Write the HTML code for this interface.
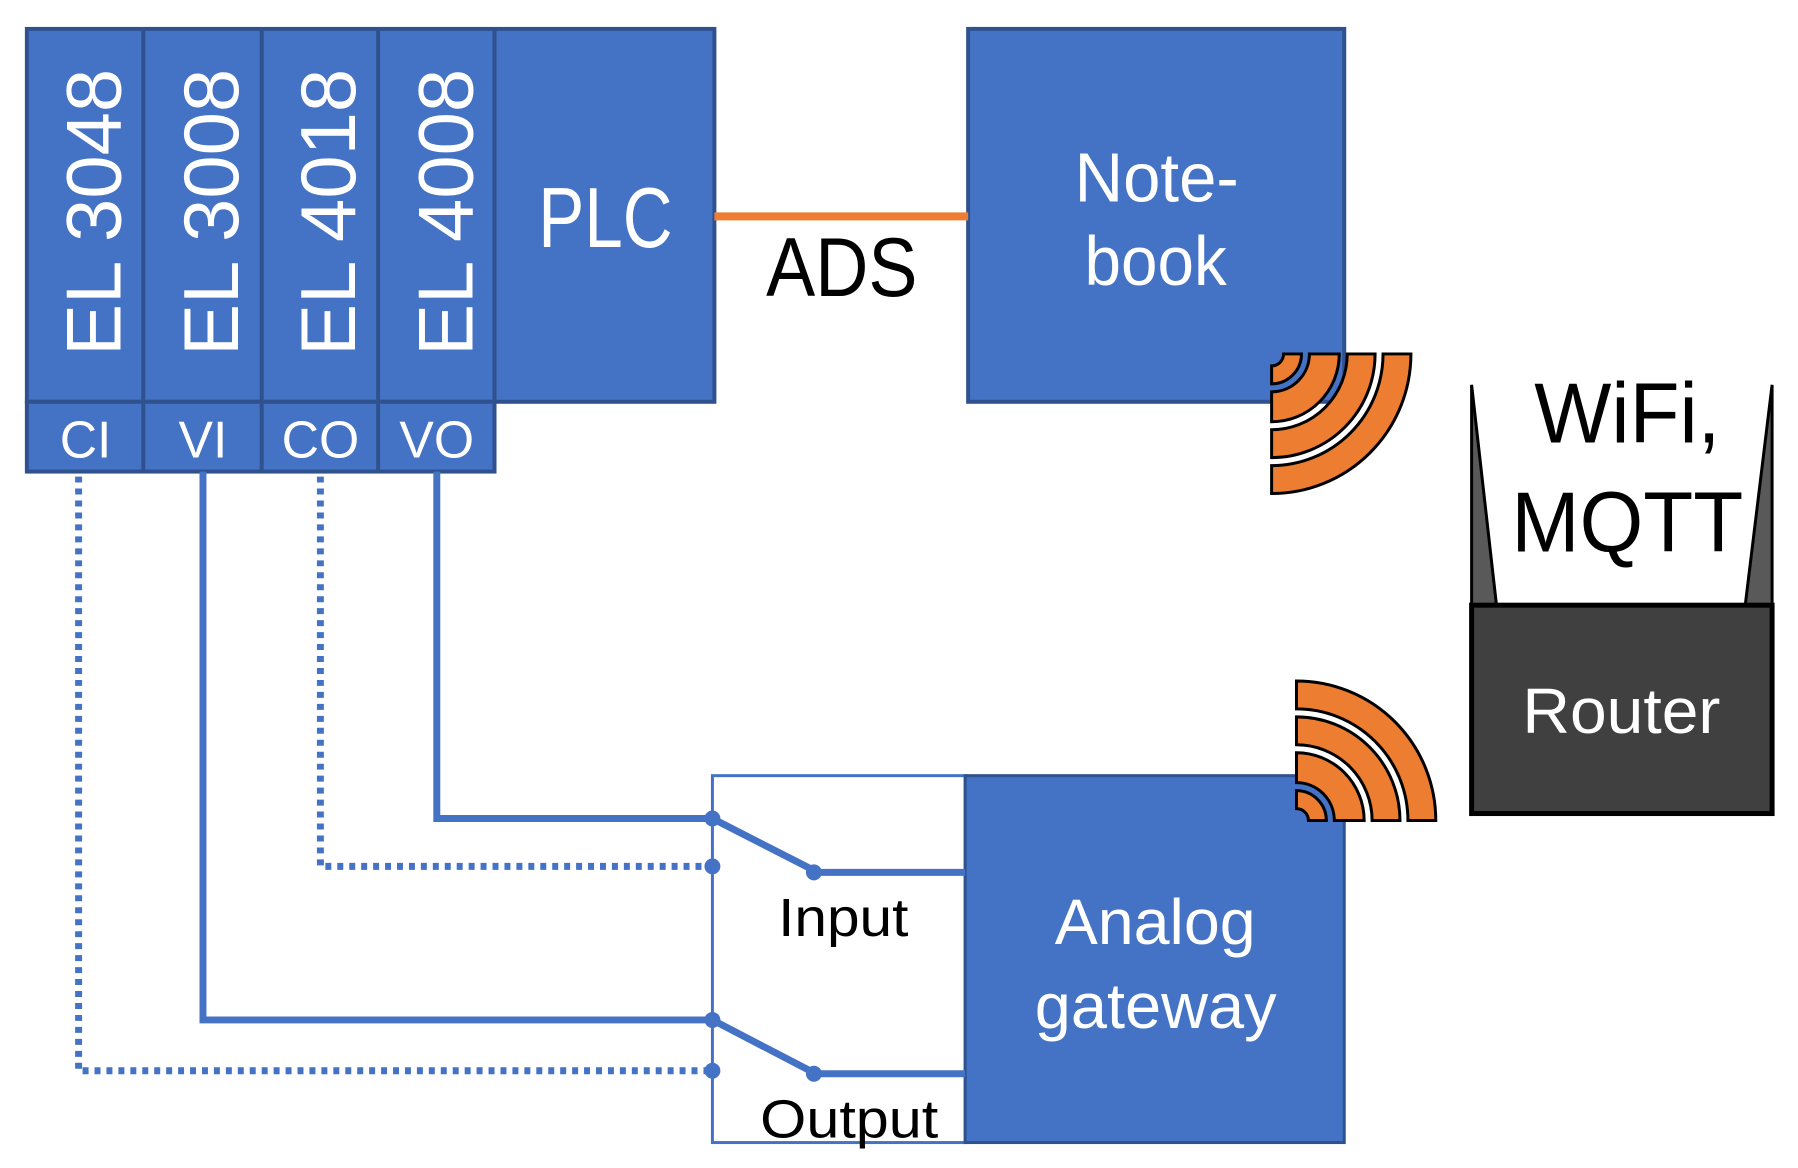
<!DOCTYPE html>
<html><head><meta charset="utf-8"><style>html,body{margin:0;padding:0;background:#fff}svg{display:block}</style></head>
<body>
<svg width="1798" height="1168" viewBox="0 0 1798 1168" xmlns="http://www.w3.org/2000/svg" font-family="Liberation Sans, sans-serif">
<g transform="scale(0.995,0.997)">
<g stroke="#2F528F" stroke-width="4" fill="#4472C4">
<rect x="27" y="29" width="691" height="374"/>
<rect x="27" y="403" width="470" height="70"/>
<line x1="144" y1="29" x2="144" y2="473"/>
<line x1="263" y1="29" x2="263" y2="473"/>
<line x1="380" y1="29" x2="380" y2="473"/>
<line x1="497" y1="29" x2="497" y2="473"/>
<rect x="973" y="29" width="378" height="374"/>
</g>
<line x1="718" y1="217" x2="973" y2="217" stroke="#ED7D31" stroke-width="8"/>
<g fill="#fff" font-size="78">
<text transform="translate(121,357) rotate(-90)" textLength="288" lengthAdjust="spacingAndGlyphs">EL 3048</text>
<text transform="translate(239,357) rotate(-90)" textLength="288" lengthAdjust="spacingAndGlyphs">EL 3008</text>
<text transform="translate(357,357) rotate(-90)" textLength="288" lengthAdjust="spacingAndGlyphs">EL 4018</text>
<text transform="translate(475,357) rotate(-90)" textLength="288" lengthAdjust="spacingAndGlyphs">EL 4008</text>
</g>
<g fill="#fff" font-size="52" text-anchor="middle">
<text x="86" y="459">CI</text><text x="204" y="459">VI</text><text x="322" y="459">CO</text><text x="439" y="459">VO</text>
</g>
<text x="541" y="248" fill="#fff" font-size="86" textLength="135" lengthAdjust="spacingAndGlyphs">PLC</text>
<text x="770" y="297" fill="#000" font-size="84" textLength="152" lengthAdjust="spacingAndGlyphs">ADS</text>
<text x="1080" y="202" fill="#fff" font-size="70" textLength="165" lengthAdjust="spacingAndGlyphs">Note-</text>
<text x="1090" y="286" fill="#fff" font-size="70" textLength="143" lengthAdjust="spacingAndGlyphs">book</text>

<g fill="#ED7D31" stroke="#000" stroke-width="3">
<path d="M1290 355 L1308 355 A30 30 0 0 1 1278 385 L1278 367 A12 12 0 0 0 1290 355 Z"/>
<path d="M1316 355 L1346 355 A68 68 0 0 1 1278 423 L1278 393 A38 38 0 0 0 1316 355 Z"/>
<path d="M1354 355 L1382 355 A104 104 0 0 1 1278 459 L1278 431 A76 76 0 0 0 1354 355 Z"/>
<path d="M1390 355 L1418 355 A140 140 0 0 1 1278 495 L1278 467 A112 112 0 0 0 1390 355 Z"/>
</g>

<polygon points="1479,386 1479,607 1504,607" fill="#595959" stroke="#000" stroke-width="3"/>
<polygon points="1781,386 1781,607 1754,607" fill="#595959" stroke="#000" stroke-width="3"/>
<rect x="1479" y="607" width="302" height="209" fill="#404040" stroke="#000" stroke-width="5"/>
<text x="1542" y="444" font-size="86" textLength="187" lengthAdjust="spacingAndGlyphs">WiFi,</text>
<text x="1519" y="553" font-size="86" textLength="233" lengthAdjust="spacingAndGlyphs">MQTT</text>
<text x="1530" y="735" fill="#fff" font-size="64" textLength="199" lengthAdjust="spacingAndGlyphs">Router</text>

<rect x="716" y="778" width="254" height="368" fill="#fff" stroke="#4472C4" stroke-width="3"/>
<rect x="970" y="778" width="381" height="368" fill="#4472C4" stroke="#2F528F" stroke-width="3"/>
<text x="1060" y="947" fill="#fff" font-size="64" textLength="202" lengthAdjust="spacingAndGlyphs">Analog</text>
<text x="1040" y="1031" fill="#fff" font-size="64" textLength="243" lengthAdjust="spacingAndGlyphs">gateway</text>
<text x="782" y="939" font-size="54" textLength="131" lengthAdjust="spacingAndGlyphs">Input</text>
<text x="764" y="1141" font-size="54" textLength="179" lengthAdjust="spacingAndGlyphs">Output</text>

<g fill="#ED7D31" stroke="#000" stroke-width="3">
<path d="M1303 811 L1303 793 A30 30 0 0 1 1333 823 L1315 823 A12 12 0 0 0 1303 811 Z"/>
<path d="M1303 785 L1303 755 A68 68 0 0 1 1371 823 L1341 823 A38 38 0 0 0 1303 785 Z"/>
<path d="M1303 747 L1303 719 A104 104 0 0 1 1407 823 L1379 823 A76 76 0 0 0 1303 747 Z"/>
<path d="M1303 711 L1303 683 A140 140 0 0 1 1443 823 L1415 823 A112 112 0 0 0 1303 711 Z"/>
</g>

<g stroke="#4472C4" stroke-width="7" fill="none">
<polyline points="439,473 439,821 716,821"/>
<polyline points="204,473 204,1023 716,1023"/>
<line x1="716" y1="821" x2="818" y2="873"/>
<line x1="818" y1="875" x2="970" y2="875"/>
<line x1="716" y1="1023" x2="818" y2="1076"/>
<line x1="818" y1="1077" x2="970" y2="1077"/>
<polyline points="322,478 322,869 716,869" stroke-dasharray="6 6"/>
<polyline points="79,478 79,1074 716,1074" stroke-dasharray="6 6"/>
</g>
<g fill="#4472C4">
<circle cx="716" cy="821" r="8"/><circle cx="716" cy="869" r="8"/><circle cx="818" cy="875" r="8"/>
<circle cx="716" cy="1023" r="8"/><circle cx="716" cy="1074" r="8"/><circle cx="818" cy="1077" r="8"/>
</g>
</g>
</svg>
</body></html>
